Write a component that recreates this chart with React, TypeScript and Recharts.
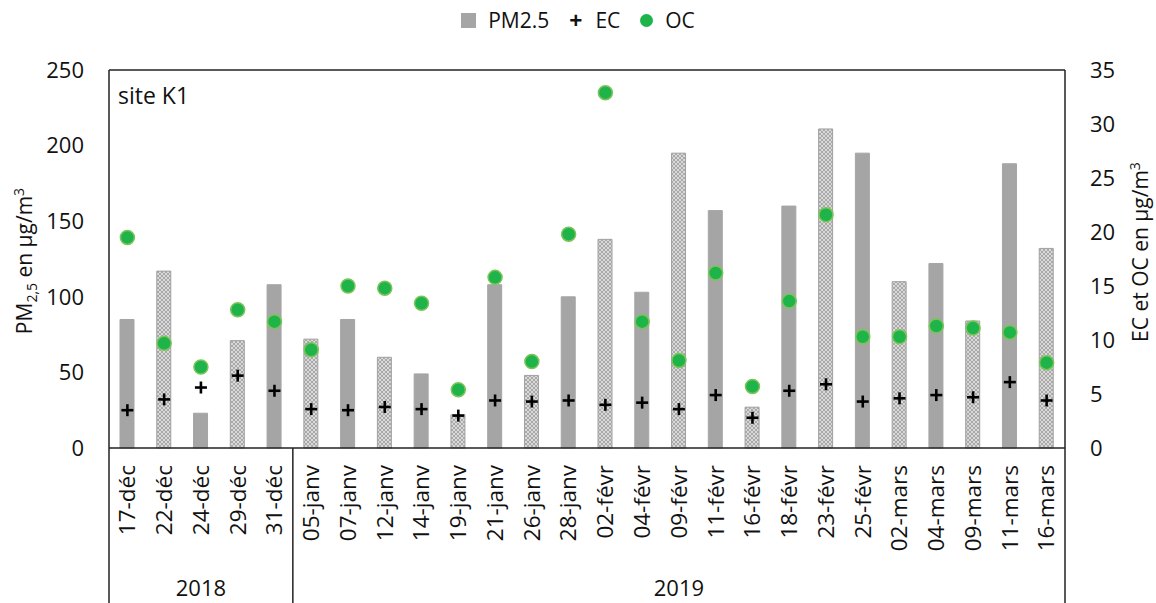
import React from 'react';
import { ComposedChart, Bar, Scatter, Cell, XAxis, YAxis, ReferenceLine } from 'recharts';

const categories = [
  '17-déc', '22-déc', '24-déc', '29-déc', '31-déc',
  '05-janv', '07-janv', '12-janv', '14-janv', '19-janv', '21-janv', '26-janv', '28-janv',
  '02-févr', '04-févr', '09-févr', '11-févr', '16-févr', '18-févr', '23-févr', '25-févr',
  '02-mars', '04-mars', '09-mars', '11-mars', '16-mars',
];
const pm25 = [85, 117, 23, 71, 108, 72, 85, 60, 49, 22, 108, 48, 100, 138, 103, 195, 157, 27, 160, 211, 195, 110, 122, 84, 188, 132];
const ec = [3.5, 4.5, 5.6, 6.7, 5.3, 3.6, 3.5, 3.8, 3.6, 3.0, 4.4, 4.3, 4.4, 4.0, 4.2, 3.6, 4.9, 2.8, 5.3, 5.9, 4.3, 4.6, 4.9, 4.7, 6.1, 4.4];
const oc = [19.5, 9.7, 7.5, 12.8, 11.7, 9.1, 15.0, 14.8, 13.4, 5.4, 15.8, 8.0, 19.8, 32.9, 11.7, 8.1, 16.2, 5.7, 13.6, 21.6, 10.3, 10.3, 11.3, 11.1, 10.7, 7.9];
const years = [
  { label: '2018', count: 5 },
  { label: '2019', count: 21 },
];
const leftTicks = [0, 50, 100, 150, 200, 250];
const rightTicks = [0, 5, 10, 15, 20, 25, 30, 35];

const data = categories.map((name, i) => ({ name, pm25: pm25[i], ec: ec[i], oc: oc[i] }));

const W = 1156;
const H = 603;
const PLOT_LEFT = 109;
const PLOT_RIGHT = 1065;
const PLOT_TOP = 70;
const PLOT_BOTTOM = 448;
const AXIS_W = 60;
const BAND = (PLOT_RIGHT - PLOT_LEFT) / categories.length;
const FONT = '"Open Sans", sans-serif';
const GREY = '#a5a5a5';
const GREEN = '#1fb44a';

// group boundaries (index of last item in each year)
const groupEnds: number[] = [];
const groupMids: Record<number, { label: string; offset: number }> = {};
{
  let start = 0;
  years.forEach((y) => {
    const mid = start + (y.count - 1) / 2;
    groupMids[Math.floor(mid)] = { label: y.label, offset: (mid - Math.floor(mid)) * BAND };
    groupEnds.push(start + y.count - 1);
    start += y.count;
  });
}

function CategoryTick(props: any) {
  const { x, y, payload, index } = props;
  const ty = y + 17;
  const lineStyle = { stroke: '#222', strokeWidth: 1.5 };
  const year = groupMids[index];
  return (
    <g>
      <text
        x={x}
        y={ty}
        transform={`rotate(-90 ${x} ${ty})`}
        textAnchor="end"
        dy="0.35em"
        fontSize={22.5}
        fontFamily={FONT}
        fill="#111"
      >
        {payload.value}
      </text>
      {index === 0 && <line x1={x - BAND / 2} x2={x - BAND / 2} y1={y} y2={H} style={lineStyle} />}
      {groupEnds.includes(index) && <line x1={x + BAND / 2} x2={x + BAND / 2} y1={y} y2={H} style={lineStyle} />}
      {year && (
        <text x={x + year.offset} y={y + 148} textAnchor="middle" fontSize={22} fontFamily={FONT} fill="#111">
          {year.label}
        </text>
      )}
    </g>
  );
}

function PlusShape(props: any) {
  const { cx, cy } = props;
  if (cx == null || cy == null) return null;
  return (
    <g stroke="#000" strokeWidth={2.6}>
      <line x1={cx - 6} x2={cx + 6} y1={cy} y2={cy} />
      <line x1={cx} x2={cx} y1={cy - 6} y2={cy + 6} />
    </g>
  );
}

function DotShape(props: any) {
  const { cx, cy } = props;
  if (cx == null || cy == null) return null;
  return <circle cx={cx} cy={cy} r={7} fill={GREEN} stroke="#7cc45a" strokeWidth={1.5} />;
}

function LeftTitle() {
  const cx = 25;
  const cy = 261;
  return (
    <text
      x={cx}
      y={cy}
      transform={`rotate(-90 ${cx} ${cy})`}
      textAnchor="middle"
      dy="0.35em"
      fontSize={21}
      fontFamily={FONT}
      fill="#111"
    >
      PM<tspan fontSize={14} dy={5}>2,5</tspan>
      <tspan dy={-5}> en µg/m</tspan>
      <tspan fontSize={14} dy={-8}>3</tspan>
    </text>
  );
}

function RightTitle() {
  const cx = 1141;
  const cy = 252;
  return (
    <text
      x={cx}
      y={cy}
      transform={`rotate(-90 ${cx} ${cy})`}
      textAnchor="middle"
      dy="0.35em"
      fontSize={21}
      fontFamily={FONT}
      fill="#111"
    >
      EC et OC en µg/m<tspan fontSize={14} dy={-8}>3</tspan>
    </text>
  );
}

function ChartLegend() {
  const item = { display: 'flex', alignItems: 'center', marginRight: 20 } as const;
  return (
    <div
      style={{
        position: 'absolute',
        top: 4,
        left: 0,
        width: W,
        display: 'flex',
        justifyContent: 'center',
        fontFamily: FONT,
        fontSize: 21,
        color: '#111',
        paddingLeft: 20,
        boxSizing: 'border-box',
      }}
    >
      <div style={item}>
        <span style={{ width: 15, height: 15, background: GREY, display: 'inline-block', marginRight: 12 }} />
        PM2.5
      </div>
      <div style={item}>
        <span style={{ fontWeight: 700, fontSize: 23, marginRight: 13 }}>+</span>
        EC
      </div>
      <div style={item}>
        <span style={{ width: 13, height: 13, borderRadius: '50%', background: GREEN, display: 'inline-block', marginRight: 12 }} />
        OC
      </div>
    </div>
  );
}

export default function App() {
  const axisLine = { stroke: '#222', strokeWidth: 1.5 };
  return (
    <div style={{ position: 'absolute', left: 0, top: 0, width: W, height: H, background: '#fff' }}>
      <ComposedChart
        width={W}
        height={H}
        data={data}
        margin={{ top: PLOT_TOP, bottom: 0, left: PLOT_LEFT - AXIS_W, right: W - PLOT_RIGHT - AXIS_W }}
        barCategoryGap={0}
      >
        <defs>
          <pattern id="hatch" width="4" height="4" patternUnits="userSpaceOnUse">
            <rect width="4" height="4" fill="#a9a9a9" />
            <path d="M0,0 L4,4 M4,0 L0,4" stroke="#e6e6e6" strokeWidth="0.8" />
          </pattern>
        </defs>
        <XAxis
          dataKey="name"
          interval={0}
          tickSize={0}
          tickMargin={0}
          height={H - PLOT_BOTTOM}
          axisLine={axisLine}
          tickLine={false}
          tick={<CategoryTick />}
        />
        <YAxis
          yAxisId="left"
          domain={[0, 250]}
          ticks={leftTicks}
          width={AXIS_W}
          tickSize={0}
          tickMargin={25}
          axisLine={axisLine}
          tickLine={false}
          tick={{ fontSize: 22, fontFamily: FONT, fill: '#111' }}
          label={<LeftTitle />}
        />
        <YAxis
          yAxisId="right"
          orientation="right"
          domain={[0, 35]}
          ticks={rightTicks}
          width={AXIS_W}
          tickSize={0}
          tickMargin={25}
          axisLine={axisLine}
          tickLine={false}
          tick={{ fontSize: 22, fontFamily: FONT, fill: '#111', textAnchor: 'start' }}
          label={<RightTitle />}
        />
        <ReferenceLine yAxisId="left" y={250} stroke="#222" strokeWidth={1.5} />
        <Bar dataKey="pm25" yAxisId="left" barSize={14} isAnimationActive={false}>
          {data.map((d, i) => (
            <Cell
              key={d.name}
              fill={i % 2 === 1 ? 'url(#hatch)' : GREY}
              stroke={i % 2 === 1 ? '#a0a0a0' : GREY}
              strokeWidth={1}
            />
          ))}
        </Bar>
        <Scatter dataKey="ec" yAxisId="right" shape={<PlusShape />} isAnimationActive={false} />
        <Scatter dataKey="oc" yAxisId="right" shape={<DotShape />} isAnimationActive={false} />
      </ComposedChart>
      <ChartLegend />
      <div
        style={{
          position: 'absolute',
          left: 118,
          top: 80,
          fontFamily: FONT,
          fontSize: 23,
          color: '#111',
          lineHeight: '30px',
        }}
      >
        site K1
      </div>
    </div>
  );
}
